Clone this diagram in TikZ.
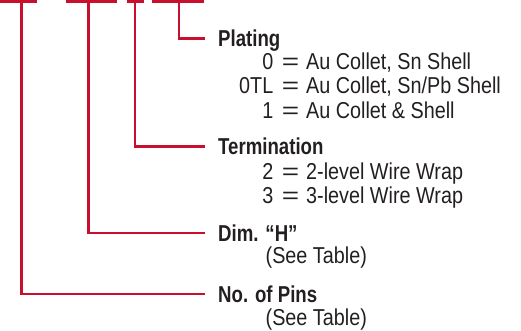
\documentclass[tikz,border=0pt]{standalone}
\usepackage{fontspec}
\setmainfont{Liberation Sans}[FakeStretch=0.86]
\newfontfamily\headfont{Liberation Sans}[FakeStretch=0.81]
\definecolor{leadred}{RGB}{200,16,46}
\definecolor{ink}{RGB}{35,31,32}
\begin{document}
\begin{tikzpicture}[x=1pt,y=-1pt,
  lead/.style={draw=leadred,line width=2.7pt},
  leader/.style={lead,shorten >=13pt},
  head/.style={font=\headfont\bfseries\fontsize{23}{27}\selectfont, text=ink, inner sep=0pt, anchor=west, text height=16.5pt, text depth=0pt},
  item/.style={font=\fontsize{23}{27}\selectfont, text=ink, inner sep=0pt},
  code/.style={item, anchor=base east},
  eqs/.style={item, anchor=base},
  desc/.style={item, anchor=base west}]
\useasboundingbox (0,0) rectangle (521,330);
% top bars
\coordinate (b1a) at (0,1.35);     \coordinate (b1b) at (36.7,1.35);  \coordinate (v1) at (21.7,1.35);
\coordinate (b2a) at (65.7,1.35);  \coordinate (b2b) at (116.7,1.35); \coordinate (v2) at (88.7,1.35);
\coordinate (b3a) at (127.3,1.35); \coordinate (b3b) at (144,1.35);   \coordinate (v3) at (135,1.35);
\coordinate (b4a) at (151.7,1.35); \coordinate (b4b) at (204,1.35);   \coordinate (v4) at (179,1.35);
% headings
\node[head] (plat) at (218,38.3) {Plating};
\node[head] (term) at (218,146.7) {Termination};
\node[head] (dimh) at (218,233) {Dim. “H”};
\node[head] (pins) at (218,294) {No. of Pins};
% plating items
\node[code] (c0) at (273.5,69.3) {0};
\node[eqs] (e0) at (290.5,69.3) {\scalebox{1.5}[1]{=}};
\node[desc] (d0) at (306,69.3) {Au Collet, Sn Shell};
\node[code] (c0tl) at (273.5,93.8) {0TL};
\node[eqs] (e0tl) at (290.5,93.8) {\scalebox{1.5}[1]{=}};
\node[desc] (d0tl) at (306,93.8) {Au Collet, Sn/Pb Shell};
\node[code] (c1) at (273.5,118.3) {1};
\node[eqs] (e1) at (290.5,118.3) {\scalebox{1.5}[1]{=}};
\node[desc] (d1) at (306,118.3) {Au Collet \& Shell};
% termination items
\node[code] (c2) at (273.5,179) {2};
\node[eqs] (e2) at (290.5,179) {\scalebox{1.5}[1]{=}};
\node[desc] (d2) at (306,179) {2-level Wire Wrap};
\node[code] (c3) at (273.5,203) {3};
\node[eqs] (e3) at (290.5,203) {\scalebox{1.5}[1]{=}};
\node[desc] (d3) at (306,203) {3-level Wire Wrap};
% see table
\node[desc] (st1) at (265.5,263.3) {(See Table)};
\node[desc] (st2) at (265.5,325) {(See Table)};
% connectors
\draw[lead] (b1a) -- (b1b);
\draw[lead] (b2a) -- (b2b);
\draw[lead] (b3a) -- (b3b);
\draw[lead] (b4a) -- (b4b);
\draw[leader] (v4) |- (plat.west);
\draw[leader] (v3) |- (term.west);
\draw[leader] (v2) |- (dimh.west);
\draw[leader] (v1) |- (pins.west);
\end{tikzpicture}
\end{document}
